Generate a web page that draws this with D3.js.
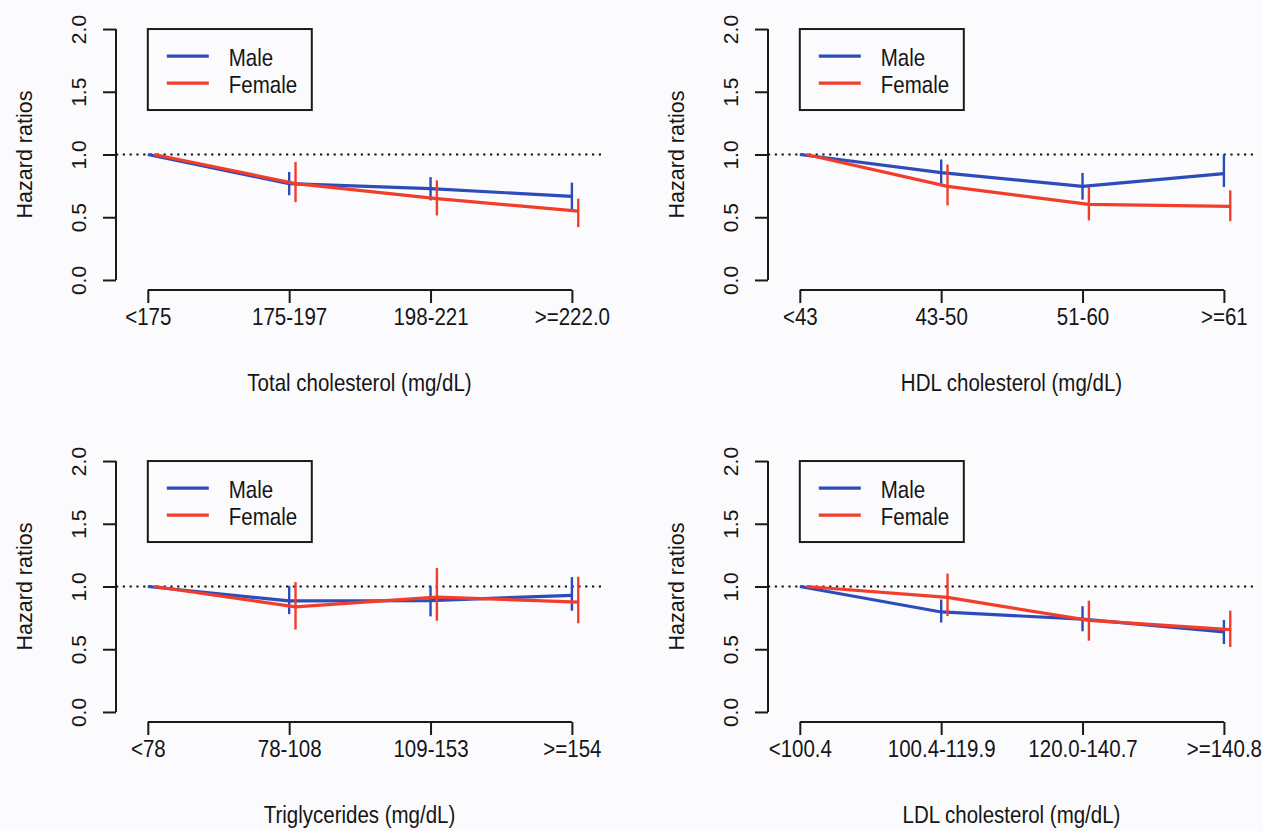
<!DOCTYPE html>
<html>
<head>
<meta charset="utf-8">
<script src="https://cdn.jsdelivr.net/npm/d3@7"></script>
<style>
  body { margin: 0; background: #fbfbfd; }
  svg { display: block; }
  text { font-family: "Liberation Sans", Arial, sans-serif; fill: #151515; }
</style>
</head>
<body>
<svg id="chart" width="1263" height="831"></svg>
<script>
// --- data (hazard ratios, lower / upper CI) ---
const tcCategories = ['<175', '175-197', '198-221', '>=222.0'];
const tcMale = [1, 0.768, 0.728, 0.666];
const tcMaleLo = [null, 0.675, 0.634, 0.549];
const tcMaleHi = [null, 0.861, 0.82, 0.776];
const tcFemale = [1, 0.768, 0.648, 0.549];
const tcFemaleLo = [null, 0.62, 0.514, 0.421];
const tcFemaleHi = [null, 0.94, 0.794, 0.648];

const hdlCategories = ['<43', '43-50', '51-60', '>=61'];
const hdlMale = [1, 0.856, 0.746, 0.848];
const hdlMaleLo = [null, 0.768, 0.64, 0.741];
const hdlMaleHi = [null, 0.96, 0.853, 1.0];
const hdlFemale = [1, 0.746, 0.602, 0.586];
const hdlFemaleLo = [null, 0.594, 0.474, 0.469];
const hdlFemaleHi = [null, 0.92, 0.741, 0.714];

const tgCategories = ['<78', '78-108', '109-153', '>=154'];
const tgMale = [1, 0.885, 0.888, 0.93];
const tgMaleLo = [null, 0.78, 0.762, 0.807];
const tgMaleHi = [null, 1.005, 1.003, 1.075];
const tgFemale = [1, 0.838, 0.916, 0.875];
const tgFemaleLo = [null, 0.657, 0.727, 0.707];
const tgFemaleHi = [null, 1.035, 1.147, 1.078];

const ldlCategories = ['<100.4', '100.4-119.9', '120.0-140.7', '>=140.8'];
const ldlMale = [1, 0.797, 0.74, 0.638];
const ldlMaleLo = [null, 0.713, 0.643, 0.541];
const ldlMaleHi = [null, 0.896, 0.843, 0.734];
const ldlFemale = [1, 0.913, 0.73, 0.656];
const ldlFemaleLo = [null, 0.765, 0.568, 0.518];
const ldlFemaleHi = [null, 1.103, 0.887, 0.807];

const yTicks = [0, 0.5, 1, 1.5, 2];
const seriesNames = ['Male', 'Female'];
const colors = { Male: '#2d4cbc', Female: '#f23d2b' };

const panels = [
  { title: 'Total cholesterol (mg/dL)', cats: tcCategories,
    male: [tcMale, tcMaleLo, tcMaleHi], female: [tcFemale, tcFemaleLo, tcFemaleHi] },
  { title: 'HDL cholesterol (mg/dL)', cats: hdlCategories,
    male: [hdlMale, hdlMaleLo, hdlMaleHi], female: [hdlFemale, hdlFemaleLo, hdlFemaleHi] },
  { title: 'Triglycerides (mg/dL)', cats: tgCategories,
    male: [tgMale, tgMaleLo, tgMaleHi], female: [tgFemale, tgFemaleLo, tgFemaleHi] },
  { title: 'LDL cholesterol (mg/dL)', cats: ldlCategories,
    male: [ldlMale, ldlMaleLo, ldlMaleHi], female: [ldlFemale, ldlFemaleLo, ldlFemaleHi] }
];

const svg = d3.select('#chart');
svg.append('rect').attr('width', 1263).attr('height', 831).attr('fill', '#fbfbfd');

const margin = { top: 19, left: 116 };
const width = 487;
const height = 271;
const colStep = 652;
const rowStep = 432;
const dodge = 0.045; // female points shifted right a bit, like the original
const fontSize = 20.5;
const stretch = 1.18; // the source image text is a bit taller than wide
const axisColor = '#1a1a1a';

const toPoints = (arr, shift) =>
  arr[0].map((hr, i) => ({ x: i + 1 + shift, hr, lo: arr[1][i], hi: arr[2][i] }));

const drawPanel = (p, idx) => {
  const ox = (idx % 2) * colStep + margin.left;
  const oy = Math.floor(idx / 2) * rowStep + margin.top;
  const g = svg.append('g').attr('transform', `translate(${ox},${oy})`);

  const x = d3.scaleLinear().domain([0.775, 4.22]).range([0, width]);
  const y = d3.scaleLinear().domain([-0.08, 2.08]).range([height, 0]);

  // y axis
  const ya = g.append('g').call(
    d3.axisLeft(y).tickValues(yTicks).tickSize(13).tickSizeOuter(0).tickFormat(d3.format('.1f'))
  );
  ya.select('.domain').remove();
  ya.selectAll('.tick line').attr('stroke', axisColor).attr('stroke-width', 2);
  ya.selectAll('.tick text')
    .attr('font-size', 21)
    .attr('font-family', '"Liberation Sans", Arial, sans-serif')
    .attr('fill', '#151515')
    .attr('transform', 'rotate(-90)')
    .attr('x', 0)
    .attr('y', -30)
    .attr('dy', 0)
    .attr('text-anchor', 'middle');
  g.append('line')
    .attr('x1', 0).attr('x2', 0)
    .attr('y1', y(0)).attr('y2', y(2))
    .attr('stroke', axisColor).attr('stroke-width', 2);

  // x axis
  const xa = g.append('g')
    .attr('transform', `translate(0,${height})`)
    .call(d3.axisBottom(x).tickValues([1, 2, 3, 4]).tickSize(13).tickSizeOuter(0)
      .tickFormat((d, i) => p.cats[i]));
  xa.select('.domain').remove();
  xa.selectAll('.tick line').attr('stroke', axisColor).attr('stroke-width', 2);
  xa.selectAll('.tick text')
    .attr('font-size', fontSize)
    .attr('font-family', '"Liberation Sans", Arial, sans-serif')
    .attr('fill', '#151515')
    .attr('y', 0)
    .attr('dy', 0)
    .attr('transform', `translate(0,35) scale(1,${stretch})`);
  g.append('line')
    .attr('x1', x(1)).attr('x2', x(4))
    .attr('y1', height).attr('y2', height)
    .attr('stroke', axisColor).attr('stroke-width', 2);

  // titles
  g.append('text')
    .attr('transform', `translate(${width / 2},${height + 101}) scale(1,${stretch})`)
    .attr('text-anchor', 'middle').attr('font-size', fontSize)
    .text(p.title);
  g.append('text')
    .attr('transform', `translate(-84,${height / 2}) rotate(-90)`)
    .attr('text-anchor', 'middle').attr('font-size', 21.5)
    .text('Hazard ratios');

  // reference line at HR = 1
  g.append('line')
    .attr('x1', 0).attr('x2', width)
    .attr('y1', y(1)).attr('y2', y(1))
    .attr('stroke', '#111').attr('stroke-width', 2.2)
    .attr('stroke-dasharray', '2.2 4.6');

  const line = d3.line().x(d => x(d.x)).y(d => y(d.hr));

  [['Male', p.male, 0], ['Female', p.female, dodge]].forEach(([name, arr, shift]) => {
    const pts = toPoints(arr, shift);
    g.append('path')
      .datum(pts)
      .attr('fill', 'none')
      .attr('stroke', colors[name])
      .attr('stroke-width', 3.2)
      .attr('stroke-linejoin', 'round')
      .attr('d', line);
    g.selectAll(null)
      .data(pts.filter(d => d.lo != null))
      .enter()
      .append('line')
      .attr('x1', d => x(d.x)).attr('x2', d => x(d.x))
      .attr('y1', d => y(d.lo)).attr('y2', d => y(d.hi))
      .attr('stroke', colors[name])
      .attr('stroke-width', 2.4);
  });

  // legend
  const lg = g.append('g').attr('transform', `translate(${x(1)},${y(2)})`);
  lg.append('rect')
    .attr('width', 164).attr('height', 81)
    .attr('fill', 'none').attr('stroke', axisColor).attr('stroke-width', 2);
  seriesNames.forEach((name, i) => {
    const ly = 27 + i * 27;
    lg.append('line')
      .attr('x1', 19).attr('x2', 61)
      .attr('y1', ly).attr('y2', ly)
      .attr('stroke', colors[name]).attr('stroke-width', 3.2);
    lg.append('text')
      .attr('transform', `translate(81,${ly + 10}) scale(1,${stretch})`)
      .attr('font-size', fontSize)
      .text(name);
  });
};

panels.forEach(drawPanel);
</script>
</body>
</html>
